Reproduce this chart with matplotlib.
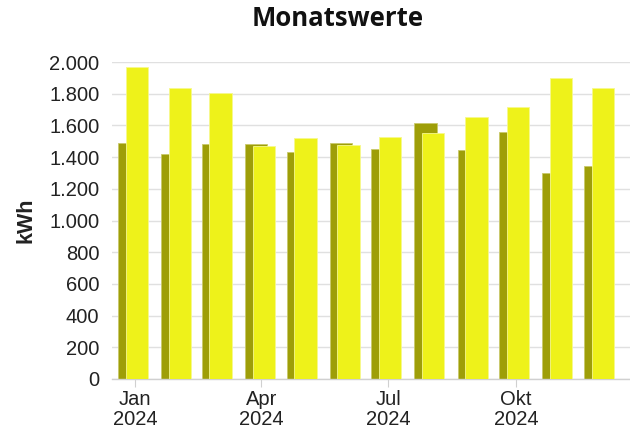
import datetime as dt

import matplotlib
matplotlib.use('Agg')
import matplotlib.dates as mdates
import matplotlib.pyplot as plt
from matplotlib.ticker import FuncFormatter

# monthly values 2024 (kWh)
months = [dt.date(2024, m, 1) for m in range(1, 13)]
series_dark = [1488, 1419, 1480, 1482, 1434, 1492, 1450, 1615, 1446, 1558, 1299, 1343]
series_light = [1968, 1838, 1802, 1471, 1522, 1476, 1526, 1552, 1650, 1718, 1897, 1838]
tick_dates = [dt.date(2024, 1, 1), dt.date(2024, 4, 1), dt.date(2024, 7, 1), dt.date(2024, 10, 1)]
tick_labels = ['Jan\n2024', 'Apr\n2024', 'Jul\n2024', 'Okt\n2024']

plt.rcParams['font.family'] = ['Liberation Sans', 'DejaVu Sans']

fig = plt.figure(figsize=(6.3, 4.38), dpi=100)
ax = fig.add_axes([112 / 630, 1 - 379 / 438, 518 / 630, 317 / 438])

x = mdates.date2num(months)
width = 16  # days
ax.bar(x - 4.0, series_dark, width, color='#9e9e08', edgecolor='#c9c96a',
       linewidth=0.6, zorder=2)
ax.bar(x + 1.6, series_light, width, color='#eef21a', edgecolor='#f6f88e',
       linewidth=0.6, zorder=3)

ax.set_xlim(mdates.date2num(dt.date(2023, 12, 15)) + 0.5,
            mdates.date2num(dt.date(2024, 12, 22)))
ax.set_ylim(0, 2000)
ax.set_yticks(range(0, 2001, 200))
ax.yaxis.set_major_formatter(FuncFormatter(lambda v, p: f'{int(v):,}'.replace(',', '.')))
ax.set_xticks(mdates.date2num(tick_dates))
ax.set_xticklabels(tick_labels, linespacing=1.05)

ax.grid(axis='y', color='#e0e0e0', linewidth=1, zorder=0)
ax.set_axisbelow(True)
for s in ['top', 'right', 'left']:
    ax.spines[s].set_visible(False)
ax.spines['bottom'].set_color('#d0d0d0')
ax.spines['bottom'].set_linewidth(1)

ax.tick_params(axis='y', length=0, pad=9, labelsize=14.5, labelcolor='#222222')
ax.tick_params(axis='x', length=6, color='#d0d0d0', pad=2, labelsize=14.5,
               labelcolor='#222222')

fig.text(26 / 630, 1 - 220 / 438, 'kWh', rotation=90, ha='center', va='center',
         fontsize=15.5, fontweight='bold', color='#222222')
fig.text(338 / 630, 1 - 19 / 438, 'Monatswerte', ha='center', va='center',
         fontsize=18.5, fontweight='bold', family='Open Sans', color='#111111')

fig.savefig('out.png', dpi=100)
